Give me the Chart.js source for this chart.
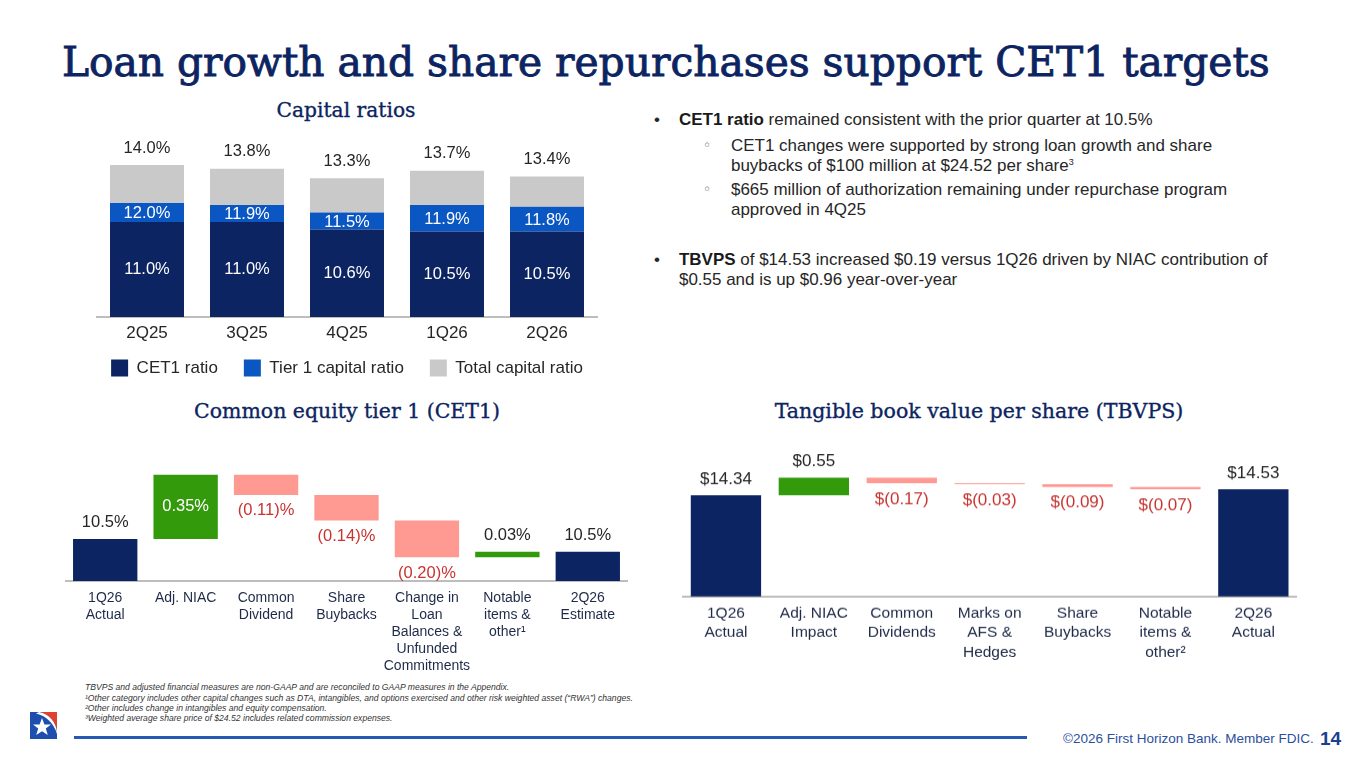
<!DOCTYPE html>
<html>
<head>
<meta charset="utf-8">
<script src="https://cdn.jsdelivr.net/npm/chart.js@4.4.0/dist/chart.umd.min.js"></script>
<style>
  html, body { margin: 0; padding: 0; background: #fff; }
  body { width: 1365px; height: 768px; position: relative; overflow: hidden;
         font-family: "Liberation Sans", Arial, sans-serif; color: #262626; }
  .abs { position: absolute; }
  .slab { position: absolute; display: inline-block; white-space: nowrap;
          font-family: "DejaVu Serif", serif; color: #0c2461; -webkit-text-stroke: 0.35px #0c2461; }
  #title { -webkit-text-stroke: 0.9px #0c2461; }
  .box { position: absolute; }
  .bul { position: absolute; white-space: nowrap; line-height: 19.5px; color: #262626; }
  .bul b { color: #1a1a1a; }
  .bul sup { font-size: 9px; line-height: 0; vertical-align: 6px; }
  .mark { position: absolute; line-height: 19.5px; }
  .sub { color: #4a4a4a; font-size: 14px; font-family: "DejaVu Sans", sans-serif; }
  .foot { position: absolute; left: 85px; font-style: italic; font-size: 8.6px; color: #333;
          white-space: nowrap; line-height: 10px; }
</style>
</head>
<body>

<div id="title" class="slab">Loan growth and share repurchases support CET1 targets</div>
<div id="tCap" class="slab">Capital ratios</div>
<div id="tCet" class="slab">Common equity tier 1 (CET1)</div>
<div id="tTbv" class="slab">Tangible book value per share (TBVPS)</div>

<div class="box" id="capBox" style="left:47px; top:127px; width:600px; height:270px;"><canvas id="capChart"></canvas></div>
<div class="box" id="cetBox" style="left:64.7px; top:440px; width:563px; height:241px;"><canvas id="cetChart"></canvas></div>
<div class="box" id="tbvBox" style="left:681.5px; top:440px; width:615.3px; height:245.7px;"><canvas id="tbvChart"></canvas></div>

<!-- commentary -->
<div class="mark" style="left:654px; top:110px;">&#8226;</div>
<div class="bul" id="b1" style="left:679px; top:110px;"><b>CET1 ratio</b> remained consistent with the prior quarter at 10.5%</div>
<div class="mark sub" style="left:703px; top:136px;">&#9702;</div>
<div class="bul" style="left:731px; top:136px;">CET1 changes were supported by strong loan growth and share<br>buybacks of $100 million at $24.52 per share<sup>3</sup></div>
<div class="mark sub" style="left:703px; top:180px;">&#9702;</div>
<div class="bul" style="left:731px; top:180px;">$665 million of authorization remaining under repurchase program<br>approved in 4Q25</div>
<div class="mark" style="left:654px; top:250px;">&#8226;</div>
<div class="bul" style="left:679px; top:250px;"><b>TBVPS</b> of $14.53 increased $0.19 versus 1Q26 driven by NIAC contribution of<br>$0.55 and is up $0.96 year-over-year</div>

<!-- footnotes -->
<div class="foot" style="top:682px;">TBVPS and adjusted financial measures are non-GAAP and are reconciled to GAAP measures in the Appendix.</div>
<div class="foot" style="top:693px;">&#185;Other category includes other capital changes such as DTA, intangibles, and options exercised and other risk weighted asset (&#8220;RWA&#8221;) changes.</div>
<div class="foot" style="top:702.5px;">&#178;Other includes change in intangibles and equity compensation.</div>
<div class="foot" style="top:713px;">&#179;Weighted average share price of $24.52 includes related commission expenses.</div>

<!-- footer -->
<svg class="abs" style="left:30px; top:712px;" width="27" height="27" viewBox="0 0 27 27">
  <rect x="0" y="0" width="27" height="27" fill="#1f4fae"/>
  <path d="M9 0 L27 0 L27 20 C26 10 19 2 9 0 Z" fill="#e2402f"/>
  <path d="M9 0 C19 2 26 10 27 20 L27 22 C24 12 17 4 6 1.5 Z" fill="#fff"/>
  <polygon points="12,6 14.4,12.4 21,12.6 15.8,16.6 17.8,23 12,19.2 6.2,23 8.2,16.6 3,12.6 9.6,12.4" fill="#fff"/>
</svg>
<div class="abs" style="left:74px; top:736px; width:953px; height:3px; background:#2559b3;"></div>
<div class="abs" style="left:1063px; top:731px; font-size:13.5px; line-height:16px; color:#2b4f9e; white-space:nowrap;">&#169;2026 First Horizon Bank. Member FDIC.</div>
<div class="abs" style="left:1320px; top:728px; font-size:19px; line-height:22px; font-weight:bold; color:#1d3f8f;">14</div>

<script>
// ---- Capital ratios ----
const capQuarters = ['2Q25', '3Q25', '4Q25', '1Q26', '2Q26'];
const capSeries = ['CET1 ratio', 'Tier 1 capital ratio', 'Total capital ratio'];
const cet1Ratio = [11.0, 11.0, 10.6, 10.5, 10.5];
const tier1Ratio = [12.0, 11.9, 11.5, 11.9, 11.8];
const totalRatio = [14.0, 13.8, 13.3, 13.7, 13.4];

// ---- CET1 walk ----
const cetCategories = [['1Q26', 'Actual'], ['Adj. NIAC'], ['Common', 'Dividend'], ['Share', 'Buybacks'],
  ['Change in', 'Loan', 'Balances &', 'Unfunded', 'Commitments'], ['Notable', 'items &', 'other\u00b9'], ['2Q26', 'Estimate']];
const cetValues = [10.5, 0.35, -0.11, -0.14, -0.20, 0.03, 10.43];
const cetIsTotal = [true, false, false, false, false, false, true];
const cetLabels = ['10.5%', '0.35%', '(0.11)%', '(0.14)%', '(0.20)%', '0.03%', '10.5%'];

// ---- TBVPS walk ----
const tbvCategories = [['1Q26', 'Actual'], ['Adj. NIAC', 'Impact'], ['Common', 'Dividends'], ['Marks on', 'AFS &', 'Hedges'],
  ['Share', 'Buybacks'], ['Notable', 'items &', 'other\u00b2'], ['2Q26', 'Actual']];
const tbvValues = [14.34, 0.55, -0.17, -0.03, -0.09, -0.07, 14.53];
const tbvIsTotal = [true, false, false, false, false, false, true];
const tbvLabels = ['$14.34', '$0.55', '$(0.17)', '$(0.03)', '$(0.09)', '$(0.07)', '$14.53'];

const NAVY = '#0c2461';
const BLUE = '#0a56c2';
const GREY = '#c9c9c9';
const GREEN = '#339a0c';
const SALMON = '#ff9a93';
const RED = '#c8332f';
const FONT = '"Liberation Sans", Arial, sans-serif';

Chart.defaults.font.family = FONT;
Chart.defaults.animation = false;

// waterfall: totals are plain bars, steps float from the running total
function walk(values, isTotal) {
  let run = 0;
  return values.map((v, i) => {
    if (isTotal[i]) { run = v; return v; }
    const from = run;
    run += v;
    return [from, run];
  });
}

function walkColors(values, isTotal) {
  return values.map((v, i) => isTotal[i] ? NAVY : (v >= 0 ? GREEN : SALMON));
}

function walkLabelPlugin(values, isTotal, labels, fontSize) {
  return {
    id: 'walkLabels',
    afterDatasetsDraw(chart) {
      const ctx = chart.ctx;
      const area = chart.chartArea;
      ctx.save();
      ctx.font = fontSize + 'px ' + FONT;
      ctx.textAlign = 'center';
      ctx.textBaseline = 'middle';
      chart.getDatasetMeta(0).data.forEach((bar, i) => {
        const top = Math.min(bar.y, bar.base);
        const bottom = Math.min(Math.max(bar.y, bar.base), area.bottom);
        if (isTotal[i]) {
          ctx.fillStyle = '#262626';
          ctx.fillText(labels[i], bar.x, top - 16);
        } else if (values[i] >= 0) {
          if (bottom - top > 30) {
            ctx.fillStyle = '#fff';
            ctx.fillText(labels[i], bar.x, (top + bottom) / 2);
          } else {
            ctx.fillStyle = '#262626';
            ctx.fillText(labels[i], bar.x, top - 16);
          }
        } else {
          ctx.fillStyle = RED;
          ctx.fillText(labels[i], bar.x, bottom + 16);
        }
      });
      ctx.restore();
    }
  };
}

const capLabelPlugin = {
  id: 'capLabels',
  afterLayout(chart) {
    // pull the legend up under the quarter labels
    chart.legend.top -= 10.5;
    chart.legend.bottom -= 10.5;
  },
  afterDatasetsDraw(chart) {
    const ctx = chart.ctx;
    const area = chart.chartArea;
    ctx.save();
    ctx.font = '16.5px ' + FONT;
    ctx.textAlign = 'center';
    ctx.textBaseline = 'middle';
    chart.getDatasetMeta(0).data.forEach((bar, i) => {
      ctx.fillStyle = '#fff';
      ctx.fillText(cet1Ratio[i].toFixed(1) + '%', bar.x, (bar.y + Math.min(bar.base, area.bottom)) / 2);
    });
    chart.getDatasetMeta(1).data.forEach((bar, i) => {
      ctx.fillStyle = '#fff';
      ctx.fillText(tier1Ratio[i].toFixed(1) + '%', bar.x, (bar.y + bar.base) / 2 + 1);
    });
    chart.getDatasetMeta(2).data.forEach((bar, i) => {
      ctx.fillStyle = '#262626';
      ctx.fillText(totalRatio[i].toFixed(1) + '%', bar.x, bar.y - 17);
    });
    ctx.restore();
  }
};

const hiddenSide = (pos) => ({
  type: 'linear', position: pos, min: 6, max: 16,
  grid: { display: false }, border: { display: false }, ticks: { display: false },
  afterFit: (s) => { s.width = 50; }
});

new Chart(document.getElementById('capChart'), {
  type: 'bar',
  data: {
    labels: capQuarters,
    datasets: [
      { label: capSeries[0], data: cet1Ratio, backgroundColor: NAVY },
      { label: capSeries[1], data: cet1Ratio.map((v, i) => [v, tier1Ratio[i]]), backgroundColor: BLUE },
      { label: capSeries[2], data: tier1Ratio.map((v, i) => [v, totalRatio[i]]), backgroundColor: GREY }
    ]
  },
  options: {
    responsive: true,
    maintainAspectRatio: false,
    layout: { padding: 0 },
    datasets: { bar: { grouped: false, barPercentage: 0.74, categoryPercentage: 1 } },
    scales: {
      x: {
        grid: { display: false, drawTicks: false },
        border: { color: '#bdbdbd', width: 2 },
        ticks: { color: '#262626', font: { size: 17 }, padding: 6 },
        afterFit: (s) => { s.height = 27; }
      },
      y: hiddenSide('left'),
      yRight: hiddenSide('right')
    },
    plugins: {
      legend: {
        position: 'bottom',
        labels: { boxWidth: 17, boxHeight: 17, padding: 26, color: '#262626', font: { size: 17 } }
      },
      tooltip: { enabled: false }
    }
  },
  plugins: [capLabelPlugin]
});

new Chart(document.getElementById('cetChart'), {
  type: 'bar',
  data: {
    labels: cetCategories,
    datasets: [{ data: walk(cetValues, cetIsTotal), backgroundColor: walkColors(cetValues, cetIsTotal) }]
  },
  options: {
    responsive: true,
    maintainAspectRatio: false,
    layout: { padding: 0 },
    datasets: { bar: { barPercentage: 0.8, categoryPercentage: 1 } },
    scales: {
      x: {
        grid: { display: false, drawTicks: false },
        border: { color: '#bdbdbd', width: 2 },
        ticks: { color: '#1e2a48', font: { size: 14, lineHeight: '17px' }, padding: 8.5, maxRotation: 0, autoSkip: false },
        afterFit: (s) => { s.height = 100; }
      },
      y: { display: false, min: 10.27, max: 11.04 }
    },
    plugins: { legend: { display: false }, tooltip: { enabled: false } }
  },
  plugins: [walkLabelPlugin(cetValues, cetIsTotal, cetLabels, 16.5)]
});

new Chart(document.getElementById('tbvChart'), {
  type: 'bar',
  data: {
    labels: tbvCategories,
    datasets: [{ data: walk(tbvValues, tbvIsTotal), backgroundColor: walkColors(tbvValues, tbvIsTotal) }]
  },
  options: {
    responsive: true,
    maintainAspectRatio: false,
    layout: { padding: 0 },
    datasets: { bar: { barPercentage: 0.8, categoryPercentage: 1 } },
    scales: {
      x: {
        grid: { display: false, drawTicks: false },
        border: { color: '#bdbdbd', width: 2 },
        ticks: { color: '#1e2a48', font: { size: 15.5, lineHeight: '19.5px' }, padding: 7.25, maxRotation: 0, autoSkip: false },
        afterFit: (s) => { s.height = 90; }
      },
      y: { display: false, min: 11.14, max: 16.083 }
    },
    plugins: { legend: { display: false }, tooltip: { enabled: false } }
  },
  plugins: [walkLabelPlugin(tbvValues, tbvIsTotal, tbvLabels, 17)]
});

// fit slab headings to the widths seen on the slide
function fitText(id, targetW, cx, left, cy) {
  const el = document.getElementById(id);
  el.style.fontSize = '40px';
  el.style.lineHeight = '40px';
  const w = el.getBoundingClientRect().width;
  const fs = 40 * targetW / w;
  el.style.fontSize = fs + 'px';
  el.style.lineHeight = fs + 'px';
  const r = el.getBoundingClientRect();
  el.style.left = (cx !== null ? cx - r.width / 2 : left) + 'px';
  el.style.top = (cy - r.height / 2) + 'px';
}
fitText('title', 1208, null, 62, 62);
fitText('tCap', 139, 346, 0, 110);
fitText('tCet', 306, 347, 0, 411);
fitText('tTbv', 409, 979, 0, 411);

// bullet text size from the first line width
(function () {
  const b1 = document.getElementById('b1');
  b1.style.fontSize = '16px';
  const fs = 16 * 474 / b1.getBoundingClientRect().width;
  document.querySelectorAll('.bul, .mark:not(.sub)').forEach(el => { el.style.fontSize = fs + 'px'; });
})();
</script>
</body>
</html>
